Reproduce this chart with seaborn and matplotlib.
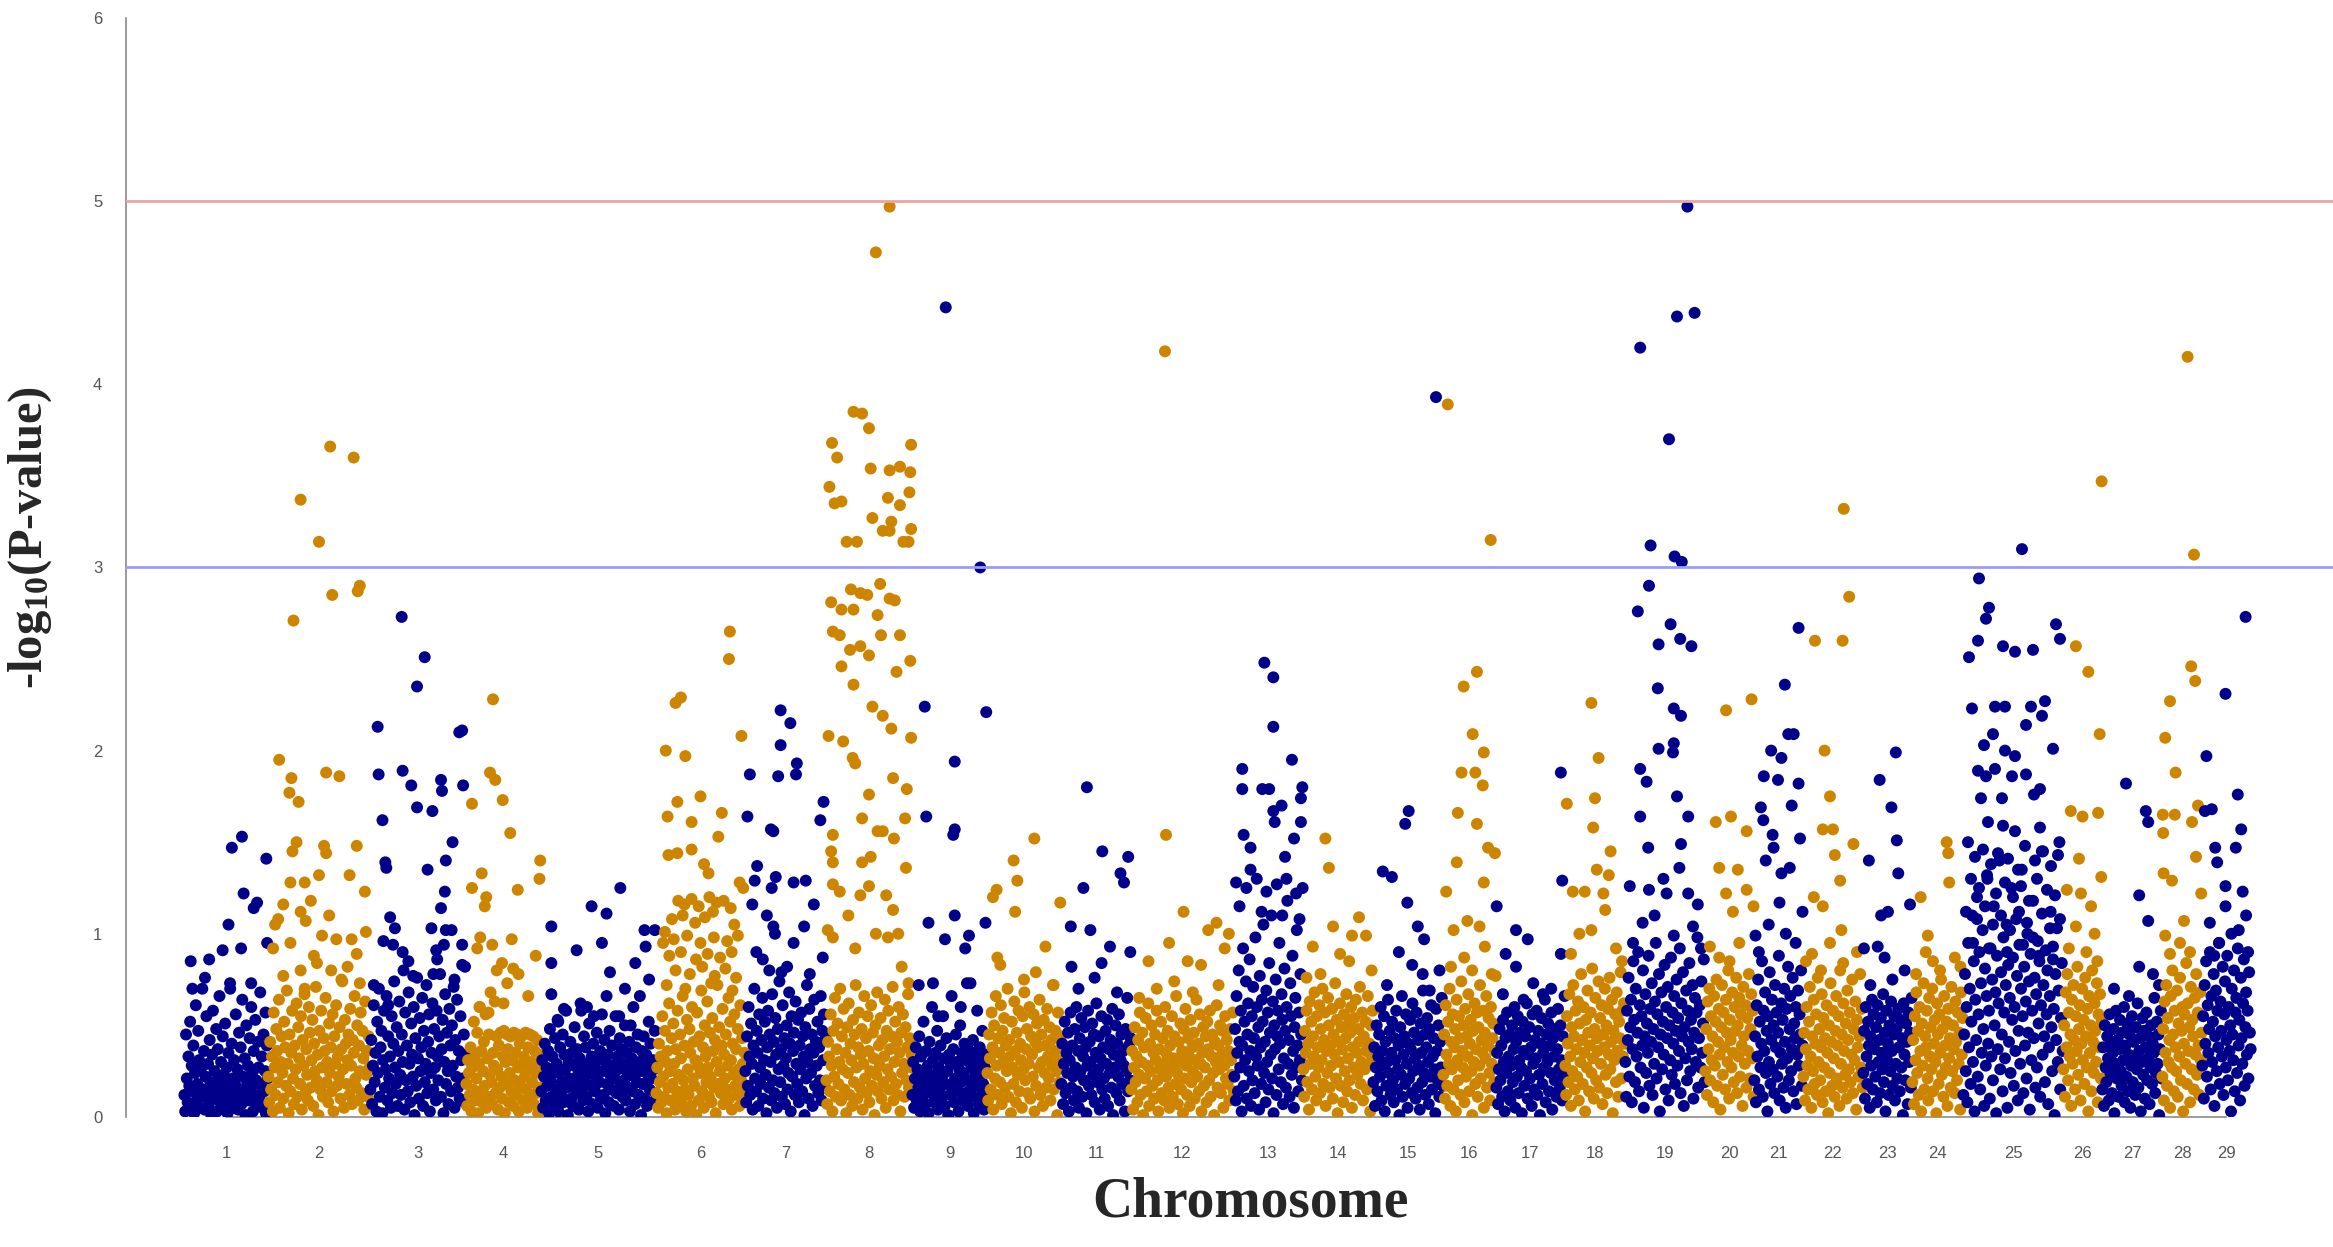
#!/usr/bin/env python3

import numpy as np
import pandas as pd
import matplotlib
matplotlib.use("Agg")
import matplotlib.pyplot as plt
import seaborn as sns

# relative width of each chromosome on the x axis (SNP span)
chrom_widths = [84, 102, 96, 75, 115, 89, 81, 86, 75, 74, 70, 103, 69, 70, 70,
                53, 69, 60, 80, 49, 49, 60, 49, 51, 100, 39, 60, 40, 49]

# bulk of the SNPs, -log10(p) in hundredths, in order along each chromosome
band_vals = [
    "12 3 45 21 8 33 17 52 6 28 14 39 2 24 61 9 18 47 31 5 26 11 70 15 36 4 22 55 13 29 7 42 19 1 34 58 10 25 16 48 3 37 20 66 8 30 12 44 23 6 51 17 27 2 35 14 73 9 40 21 5 31 18 56 11 26 4 46 15 38 7 64 22 13 32 1 50 19 28 9 43 16 60 24 3 36 12 53 20 7 41 27 10 68 17 33 5 45 14 25 2 39 21",
    "22 8 41 15 33 3 57 27 12 48 36 19 64 5 30 44 24 10 52 38 17 69 29 2 45 14 35 58 21 7 39 26 62 11 49 32 18 55 4 42 28 67 13 37 23 9 60 46 16 31 53 6 40 25 71 20 34 1 47 15 58 27 11 43 36 65 19 30 8 51 24 38 14 56 3 44 29 61 17 33 22 49 10 37 74 26 5 53 40 18 31 45 12 59 28 7 42 35 66 21 16 50 9 39 25 57 13 47 32 4 63 23 36 11 44 27",
    "15 42 7 28 61 19 35 3 52 24 70 11 38 47 2 31 58 16 26 66 9 44 21 33 5 55 13 40 74 27 18 49 6 36 63 23 12 45 30 80 4 57 20 39 14 68 29 8 51 34 22 60 1 43 17 76 32 10 54 25 38 65 6 47 19 29 72 13 41 56 3 24 35 62 15 48 27 9 58 33 20 44 78 11 37 53 2 30 67 18 46 25 7 59 39 14 50 28 71 5 42 22 64 16 36 10 55 31 83 21 45 8 34",
    "18 6 31 24 12 38 3 27 15 52 9 34 21 46 2 29 60 14 36 8 25 41 17 56 5 32 11 45 23 68 19 7 35 28 63 13 44 26 4 39 16 46 22 10 33 47 2 30 18 45 37 8 24 44 14 31 6 46 20 35 12 45 27 3 40 17 44 29 9 33 22 46 15 5 38 26 45 11 30 19 44 7 36 24 13 42 2 28 16 34",
    "14 31 5 22 40 9 27 17 36 2 48 20 11 33 25 7 43 15 29 53 3 24 38 12 19 45 8 34 26 58 16 1 30 21 41 10 35 6 28 49 18 13 37 23 4 32 62 15 26 9 44 20 38 11 29 3 51 24 17 33 7 40 27 14 22 46 5 31 19 36 10 56 25 12 42 2 30 18 34 8 47 23 15 39 28 6 21 55 13 33 26 4 43 17 37 11 29 20 50 9 35 24 16 41 3 27 32 14 60 22 7 38 19 45 12 30 25 1 36 18 44 10 28 34 6 23 52 15 40 21 8 31 26 47 13",
    "13 27 5 40 19 33 8 55 22 11 47 30 2 36 16 62 25 9 43 18 51 29 4 37 14 58 23 10 45 32 7 66 20 39 15 3 53 26 12 48 35 6 60 21 41 17 31 1 57 28 9 44 24 69 14 38 5 50 33 19 63 27 11 46 22 8 54 36 16 42 2 30 72 18 49 25 13 39 59 7 34 21 45 15 28 65 10 52 31 4 40 23 56 17 37 12 48 26 6 61 20 43 29 14 35",
    "25 8 44 17 60 33 12 51 29 4 39 70 21 14 47 35 6 56 27 18 42 65 10 31 52 23 2 38 58 16 45 30 9 67 20 41 13 54 34 5 48 26 74 19 37 11 61 28 43 7 32 50 15 24 68 40 3 55 22 36 46 12 63 29 18 53 8 39 26 57 14 44 33 1 49 21 72 30 10 59 37 24 45 6 35 64 17 41 28 52 13 38 20 66 9 47 31 56 16 43",
    "20 7 41 33 14 56 28 3 47 22 65 11 37 51 18 30 70 9 44 26 59 15 35 2 49 24 62 12 40 31 6 53 19 45 72 27 10 38 57 16 34 48 4 29 66 21 43 13 55 36 8 25 61 17 46 32 1 50 23 68 14 39 28 54 10 42 19 33 64 5 47 26 58 15 37 22 44 71 9 30 52 18 41 12 60 35 3 46 24 56 29 11 49 20 38 67 16 43 27 34",
    "12 30 5 21 38 9 26 16 44 3 33 19 11 52 24 7 36 15 28 2 41 20 13 60 31 8 23 35 17 47 4 27 14 39 10 22 55 32 6 18 43 25 1 34 12 29 66 16 37 8 21 45 30 14 3 26 50 19 35 9 24 40 13 31 73 6 20 36 15 28 11 42 2 25 33 17 58 22 7 38 29 12 47 18 4 27 34 10",
    "24 9 45 32 15 57 38 4 50 21 66 28 12 43 35 19 61 7 47 30 54 16 39 25 70 11 42 33 2 52 27 18 63 36 8 46 23 58 14 40 31 5 55 26 68 20 37 48 13 29 60 10 44 34 22 56 3 41 17 51 38 27 64 12 45 30 6 53 24 39 16 59 33 21 49 9 42 28 72 15 36 47 25 1 57 31 19 44",
    "18 40 7 29 52 13 35 24 46 3 31 57 16 39 22 9 48 27 60 14 36 5 43 25 54 11 33 20 49 38 2 28 58 17 41 30 12 51 23 45 8 35 62 19 26 44 4 32 55 15 38 21 10 47 29 53 6 37 24 42 16 59 1 34 27 50 13 40 22 56 9 31 45 18 36 28 3 48 25 65 14 39 20 43",
    "15 36 4 27 49 19 33 8 42 23 57 12 30 46 1 38 21 54 14 28 62 6 40 25 50 17 35 10 45 31 58 20 3 37 26 52 13 43 29 9 60 22 34 47 16 5 39 27 55 11 32 44 18 66 24 7 41 30 51 15 36 2 48 21 59 28 12 43 33 6 53 19 38 25 46 10 31 64 22 40 14 56 29 3 35 49 17 27 44 8 52 37 20 58 11 33 45 24 1 41 30 61 16 39 26 50 13 34 47 5 28 55 21 42 18 36 9 48 31 23 57 14",
    "22 48 9 66 35 14 80 41 27 58 3 39 92 17 52 31 74 10 45 62 25 86 36 6 55 20 71 43 13 98 33 60 28 49 4 77 38 18 64 52 105 24 41 8 69 30 57 15 84 46 34 110 21 63 2 50 37 75 12 44 58 26 95 40 19 67 53 7 32 81 47 16 60 118 29 42 11 73 55 23 88 36 5 49 65 27 102 39 14 57 31 78 45 20 125",
    "26 11 47 35 58 19 40 4 63 29 52 15 44 33 68 22 9 55 38 27 61 13 48 31 70 18 42 57 6 36 24 65 50 16 39 28 59 10 45 34 73 21 53 2 41 30 62 17 49 37 8 56 25 43 67 14 32 51 20 46 60 5 38 27 54 12 64 35 23 48 41 71 18 30 57 9 44 26 52 36 15 66 28 40 3 50 33 58",
    "19 38 6 27 50 14 33 45 22 60 9 36 28 55 3 41 17 30 64 24 47 12 35 52 20 8 43 31 58 15 26 39 1 49 23 66 11 34 44 18 56 29 5 40 21 53 37 13 62 25 46 32 10 57 16 42 28 4 51 35 19 69 24 45 12 38 54 30 7 48 22 61 15 33 43 26 2 59 36 20 50 11 41 27 65 17",
    "23 45 10 61 34 17 52 29 70 6 41 26 56 15 38 48 3 64 31 20 55 43 12 74 36 27 50 8 59 22 44 33 67 14 40 53 25 1 47 30 62 18 37 57 11 49 28 72 21 42 35 58 5 46 32 66 16 39 54 24 9 60 29 43 51 19 36 77",
    "16 35 7 26 48 20 39 11 53 30 3 43 24 57 14 33 45 9 28 50 19 37 60 5 41 22 55 13 31 46 27 2 52 36 17 44 25 62 10 34 49 21 38 6 56 29 15 42 32 58 12 47 23 1 40 54 18 35 27 64 8 45 30 51 14 39 24 57 4 43 33 20 48 11 37 59 26 16 50 31 9 44 22 66",
    "28 12 55 40 19 67 33 6 49 25 72 44 15 58 37 22 63 9 51 30 78 42 18 60 35 3 53 27 69 46 14 39 57 24 81 32 10 48 65 20 43 36 74 16 54 29 61 7 45 38 70 23 50 13 59 34 76 26 41 64 2 47 31 56 19 68 36 11 52 43 79 21 58 33 62 40",
    "30 11 58 42 76 22 49 64 8 37 85 53 19 70 33 46 90 14 61 27 55 39 80 5 44 67 24 51 35 88 17 59 41 73 12 48 29 63 95 21 56 38 78 3 45 68 26 52 34 83 15 60 43 71 9 50 31 87 23 57 40 66 18 47 75 28 54 36 92 13 62 44 79 6 49 32 69 20 58 41 84 25 53 37 72 10 46 65 30 57 98 16 43 61 27 74 35 51 86 19",
    "25 48 12 63 37 70 20 55 31 44 8 66 28 52 75 17 41 59 34 4 49 72 23 57 38 15 64 46 30 80 10 53 42 27 68 35 19 60 47 76 13 50 33 65 22 56 39 6 71 44 29 61 16 54 36 78 21 48 67 32 58 11",
    "20 44 8 61 33 75 15 52 27 40 85 11 58 36 68 24 47 3 55 30 79 18 42 64 26 50 13 72 38 57 22 46 88 9 35 62 29 53 16 70 41 5 59 32 82 20 48 66 25 37 76 14 51 43 60 7 34 69 28 56 45 80 17 39",
    "22 46 9 37 60 28 15 52 71 33 5 44 25 64 18 40 56 12 76 30 48 20 38 67 8 54 27 43 14 61 35 2 50 24 73 41 17 58 32 11 47 66 21 39 55 6 80 29 45 16 62 36 23 51 10 69 42 26 57 19 34 75 13 48 31 63 4 53 38 22 44 78 27 59 16",
    "24 47 10 60 33 18 52 39 5 44 28 64 15 56 37 22 49 8 61 30 42 13 54 35 26 67 19 46 3 58 31 40 12 50 25 63 36 17 45 55 9 29 48 21 59 38 14 53 27 43 1 62 34 20 51 41 7 57 30 46 16 65",
    "19 42 7 55 31 68 24 47 12 60 36 3 51 28 73 15 44 38 58 21 9 65 33 49 26 70 14 40 53 30 2 62 45 18 56 35 75 23 48 11 66 39 27 52 6 59 32 43 16 71 25 50 37 13 63 41 20 57 29 46 4 68 34 54",
    "12 45 78 25 60 8 95 38 70 18 52 110 30 85 3 64 42 120 22 56 90 15 73 35 102 48 6 81 28 66 130 40 58 10 92 33 75 20 115 50 68 2 88 37 62 140 26 79 45 14 98 57 32 72 105 5 83 41 65 24 125 53 87 17 60 36 108 77 9 47 94 29 70 135 55 13 82 39 63 21 100 46 74 4 89 31 58 118 43 76 16 67 27 96 51 85 11 61 145 34 72 44 19 91 56 80 7 38 66 112 49 25 86 59 1 78 42 103 30 69 150 15 54 84 36",
    "26 50 11 68 38 78 20 57 33 45 6 64 29 72 42 15 55 36 82 23 48 61 9 40 70 31 53 18 76 44 27 59 3 66 35 50 14 80 41 24 62 47 30 73 8 56 38 67 21 52",
    "15 38 6 50 27 19 44 32 9 56 24 40 13 35 48 2 29 58 21 42 11 37 53 25 17 46 31 60 8 39 22 51 14 34 45 5 28 55 19 41 33 12 49 26 62 16 36 43 3 30 54 23 47 10 38 57 20 32 44 7 27 50 18 40 35 65 13 24 52 29 45 1 37 58 21",
    "22 48 9 63 35 72 17 54 30 42 5 66 27 80 45 14 58 38 25 69 11 51 33 76 20 47 60 3 40 56 29 84 18 62 36 49 8 71 26 53 44 15 65 34 78 23 57 39 12 68 31 46",
    "28 55 10 72 40 85 22 61 35 48 90 15 66 30 52 78 6 44 69 25 58 38 95 18 63 47 33 82 12 56 74 27 42 88 20 60 36 50 3 70 45 31 80 14 57 65 24 92 39 53 9 76 43 29 62 86 17 49 68 34 58 21 79 46 37",
]

# stand-out SNPs as "position along chromosome (%):-log10(p)"
peak_points = [
    "8:0.85 30:0.86 46:0.91 53:1.05 57:1.47 69:1.53 71:1.22 83:1.14 87:1.17 68:0.92 98:1.41 99:0.95 10:0.70 25:0.76 55:0.70 80:0.73 97:0.57",
    "11:1.95 23:1.85 21:1.77 30:1.72 28:1.50 24:1.45 55:1.48 57:1.44 87:1.48 57:1.88 70:1.86 50:1.32 80:1.32 95:1.23 22:1.28 36:1.28 15:1.16 32:1.12 42:1.18 10:1.08 7:1.05 37:1.07 22:0.95 53:0.99 67:0.97 82:0.97 96:1.01 87:0.89 15:0.77 32:0.80 48:0.84 62:0.80 78:0.82 36:0.70 90:0.73 61:3.66 84:3.60 32:3.37 50:3.14 90:2.90 88:2.87 63:2.85 25:2.71 45:0.88 72:0.75 5:0.92 60:1.10",
    "33:2.73 57:2.51 49:2.35 8:2.13 9:1.87 34:1.89 43:1.81 49:1.69 65:1.67 74:1.84 75:1.78 96:2.11 93:2.10 97:1.81 13:1.62 86:1.50 16:1.39 17:1.36 60:1.35 79:1.40 78:1.23 74:1.14 21:1.09 26:1.03 64:1.03 79:1.02 85:1.02 14:0.96 24:0.94 34:0.90 69:0.91 77:0.94 96:0.94 40:0.85 70:0.86 99:0.82 4:0.72 45:0.77 66:0.78 19:0.61 88:0.75",
    "36:2.28 32:1.88 39:1.84 49:1.73 8:1.71 59:1.55 99:1.40 98:1.30 21:1.33 69:1.24 8:1.25 27:1.20 25:1.15 19:0.98 61:0.97 15:0.92 35:0.94 93:0.88 48:0.84 63:0.81 70:0.78 41:0.80 55:0.73 83:0.66 18:0.60 30:0.57 50:0.62",
    "69:1.25 44:1.15 57:1.11 9:1.04 90:1.02 31:0.91 53:0.95 91:0.93 9:0.84 60:0.79 82:0.84 94:0.75 9:0.67 20:0.59 35:0.58 46:0.55 57:0.66 68:0.55 73:0.70 86:0.66 78:0.50 99:1.02 40:0.60 15:0.52",
    "83:2.65 82:2.50 22:2.26 28:2.29 96:2.08 11:2.00 33:1.97 50:1.75 24:1.72 13:1.64 40:1.61 74:1.66 70:1.53 40:1.46 14:1.43 24:1.44 54:1.38 59:1.33 94:1.28 25:1.18 32:1.16 40:1.19 48:1.15 60:1.20 68:1.17 76:1.18 84:1.14 18:1.08 30:1.10 44:1.06 55:1.09 64:1.12 88:1.05 10:1.01 20:0.97 35:0.99 50:0.95 65:0.98 80:0.96 92:0.99 15:0.88 28:0.90 45:0.86 58:0.89 72:0.87 85:0.90 22:0.80 38:0.78 52:0.82 66:0.77 78:0.81 90:0.76 12:0.72 33:0.70 62:0.73 86:0.69 8:0.95 98:1.25",
    "44:2.22 56:2.15 44:2.03 64:1.93 63:1.87 41:1.86 6:1.87 97:1.72 93:1.62 3:1.64 35:1.56 32:1.57 15:1.37 12:1.29 38:1.31 60:1.28 75:1.29 33:1.25 85:1.16 9:1.16 27:1.10 35:1.04 37:1.00 73:1.04 14:0.90 22:0.86 30:0.80 45:0.79 96:0.87 60:0.95 52:0.82 80:0.78",
    "74:4.97 58:4.72 32:3.85 42:3.84 50:3.76 7:3.68 13:3.60 99:3.67 52:3.54 74:3.53 86:3.55 98:3.52 4:3.44 10:3.35 18:3.36 72:3.38 97:3.41 86:3.34 54:3.27 66:3.20 76:3.25 74:3.20 99:3.21 24:3.14 36:3.14 90:3.14 96:3.14 "
    "29:2.88 40:2.86 48:2.85 63:2.91 6:2.81 18:2.77 32:2.77 60:2.74 74:2.83 80:2.82 8:2.65 16:2.63 28:2.55 40:2.57 50:2.52 64:2.63 86:2.63 18:2.46 32:2.36 82:2.43 98:2.49 54:2.24 66:2.19 76:2.12 99:2.07 3:2.08 20:2.05 31:1.96 34:1.93 78:1.85 94:1.79 50:1.76 42:1.63 60:1.56 66:1.56 8:1.54 79:1.52 92:1.63 6:1.45 8:1.39 42:1.39 52:1.42 93:1.36 8:1.27 16:1.23 40:1.21 50:1.26 70:1.21 78:1.13 26:1.10 2:1.02 8:0.98 58:1.00 72:0.98 84:1.00 34:0.92 88:0.82 96:0.73",
    "45:4.42 91:3.00 17:2.24 99:2.21 57:1.94 19:1.64 55:1.54 57:1.57 22:1.06 57:1.10 76:0.99 71:0.92 98:1.06 44:0.97 78:0.73 9:0.72 28:0.73 65:0.60 35:0.55",
    "64:1.52 36:1.40 41:1.29 8:1.20 13:1.24 38:1.12 99:1.17 79:0.93 14:0.87 18:0.83 66:0.79 50:0.75 90:0.72",
    "37:1.80 59:1.45 96:1.42 85:1.33 90:1.28 32:1.25 14:1.04 42:1.02 70:0.93 99:0.90 15:0.82 58:0.84 48:0.76 25:0.70 80:0.68",
    "33:4.18 34:1.54 51:1.12 83:1.06 75:1.02 95:1.00 91:0.92 37:0.95 17:0.85 55:0.85 68:0.83 42:0.74 25:0.70 85:0.72 60:0.68 8:0.65",
    "44:2.48 57:2.40 57:2.13 84:1.95 12:1.90 12:1.79 41:1.79 51:1.79 99:1.80 97:1.74 69:1.70 57:1.67 59:1.61 97:1.61 14:1.54 24:1.47 87:1.52 74:1.42 24:1.35 3:1.28 18:1.25 33:1.30 47:1.23 62:1.27 76:1.30 90:1.22 8:1.15 40:1.12 70:1.10 95:1.08",
    "32:1.52 37:1.36 80:1.09 70:0.99 90:0.99 43:1.04 14:0.93 53:0.89 66:0.85 25:0.78 98:0.80 5:0.76",
    "51:1.67 46:1.60 14:1.34 27:1.31 49:1.17 64:1.04 73:0.97 37:0.90 56:0.83 71:0.78 81:0.69 90:3.93 20:0.72 95:0.80",
    "9:3.89 90:3.15 64:2.43 39:2.35 56:2.09 77:1.99 35:1.88 61:1.88 75:1.81 28:1.66 64:1.60 85:1.47 98:1.44 26:1.39 6:1.23 77:1.28 46:1.07 69:1.04 20:1.02 79:0.93 40:0.87 15:0.82 55:0.80 92:0.78",
    "29:1.02 46:0.97 14:0.89 29:0.82 94:1.88 96:1.29 94:0.89 10:0.67 54:0.73 68:0.67 1:1.15 80:0.70 40:0.64",
    "44:2.26 56:1.96 3:1.71 50:1.74 47:1.58 76:1.45 53:1.35 73:1.32 64:1.22 13:1.23 33:1.23 24:1.00 44:1.02 67:1.13 10:0.89 85:0.92 95:0.85",
    "78:4.97 65:4.37 87:4.39 19:4.20 55:3.70 32:3.12 62:3.06 71:3.03 30:2.90 16:2.76 57:2.69 69:2.61 83:2.57 42:2.58 41:2.34 61:2.23 70:2.19 61:2.04 60:1.99 42:2.01 19:1.90 27:1.83 65:1.75 19:1.64 79:1.64 29:1.47 70:1.49 68:1.36 6:1.26 30:1.24 52:1.22 79:1.22 91:1.16 22:1.06 61:0.99 85:1.04 10:0.95 37:1.10 48:1.30 95:0.92",
    "43:2.22 95:2.28 22:1.61 53:1.64 85:1.56 29:1.36 67:1.35 43:1.22 85:1.24 57:1.12 99:1.15 10:0.93 29:0.87 70:0.95 50:0.85",
    "91:2.67 63:2.36 81:2.09 70:2.09 35:2.00 56:1.96 20:1.86 49:1.84 91:1.82 14:1.69 77:1.70 19:1.62 38:1.54 94:1.52 40:1.47 24:1.40 73:1.36 56:1.33 52:1.17 99:1.12 3:0.99 30:1.05 65:1.00 85:0.95 10:0.90",
    "68:3.32 77:2.84 20:2.60 66:2.60 36:2.00 45:1.75 33:1.57 50:1.57 53:1.43 62:1.29 18:1.20 33:1.15 84:1.49 64:1.02 15:0.89 30:0.80 67:0.84 90:0.90 5:0.85 45:0.95",
    "67:1.99 34:1.84 58:1.69 69:1.51 12:1.40 72:1.33 51:1.12 37:1.10 96:1.16 2:0.92 30:0.93 44:0.87 85:0.80 60:0.75 15:0.72",
    "68:1.50 71:1.44 73:1.28 17:1.20 31:0.99 27:0.90 84:0.87 41:0.85 55:0.80 95:0.82 8:0.78",
    "16:2.94 26:2.78 23:2.72 15:2.60 6:2.51 40:2.57 52:2.54 70:2.55 93:2.69 97:2.61 59:3.10 9:2.23 32:2.24 42:2.24 68:2.24 82:2.27 30:2.09 63:2.14 79:2.19 21:2.03 42:2.00 52:1.97 90:2.01 15:1.89 23:1.86 32:1.90 49:1.86 63:1.87 77:1.79 18:1.74 39:1.74 71:1.76 25:1.61 40:1.59 52:1.56 77:1.58 "
    "5:1.50 12:1.42 20:1.46 28:1.38 35:1.44 45:1.41 55:1.35 62:1.48 72:1.40 80:1.45 88:1.37 95:1.43 8:1.30 16:1.25 24:1.32 33:1.22 42:1.28 50:1.20 58:1.26 66:1.18 74:1.30 84:1.24 92:1.21 3:1.12 14:1.08 22:1.15 30:1.05 38:1.10 47:1.02 56:1.12 64:1.06 70:0.98 79:1.11 87:1.03 97:1.08 10:0.95 26:0.92 44:0.90 60:0.94 76:0.88 90:0.93",
    "99:3.47 33:2.57 65:2.43 94:2.09 20:1.67 50:1.64 90:1.66 41:1.41 98:1.31 10:1.24 46:1.22 72:1.15 33:1.04 81:1.00 15:0.92 60:0.90 88:0.85",
    "40:1.82 73:1.67 77:1.61 62:1.21 77:1.07 62:0.82 85:0.78 20:0.70 45:0.66 95:0.72",
    "64:4.15 80:3.07 73:2.46 83:2.38 20:2.27 8:2.07 34:1.88 2:1.65 32:1.65 75:1.61 90:1.70 3:1.55 85:1.42 4:1.33 25:1.29 98:1.22 55:1.07 8:0.99 20:0.89 45:0.95 70:0.90",
    "89:2.73 48:2.31 9:1.97 73:1.76 6:1.67 20:1.68 80:1.57 27:1.47 69:1.47 31:1.39 48:1.26 83:1.23 48:1.15 16:1.06 94:0.90 60:1.00 35:0.95 75:1.02 25:0.88 90:1.10",
]

suggestive = 3
significant = 5

# build the table, one row per SNP
rows = []
offset = 0
for i, w in enumerate(chrom_widths):
    chrom = i + 1
    band = [int(v) / 100 for v in band_vals[i].split()]
    n = len(band)
    for j, v in enumerate(band):
        rows.append((chrom, offset + (j + 0.5) / n * w, v))
    for p in peak_points[i].split():
        pos, v = p.split(":")
        rows.append((chrom, offset + float(pos) / 100 * w, float(v)))
    offset += w
df = pd.DataFrame(rows, columns=["chrom", "pos", "logp"])
df["parity"] = np.where(df["chrom"] % 2 == 1, "odd", "even")

starts = np.cumsum([0] + chrom_widths[:-1])
centers = starts + np.array(chrom_widths) / 2

sns.set_style("white")
plt.rcParams["font.family"] = ["Liberation Sans", "DejaVu Sans"]
plt.rcParams["mathtext.fontset"] = "custom"
plt.rcParams["mathtext.rm"] = "Liberation Serif:bold"
plt.rcParams["mathtext.bf"] = "Liberation Serif:bold"
plt.rcParams["mathtext.it"] = "Liberation Serif:bold:italic"

fig = plt.figure(figsize=(23.33, 12.47), dpi=100)
ax = fig.add_axes([0.054, 0.1043, 0.946, 0.8813])

sns.scatterplot(data=df, x="pos", y="logp", hue="parity",
                palette={"odd": "#00008B", "even": "#CD8500"},
                s=74, linewidth=0, alpha=1, legend=False, ax=ax)

ax.axhline(significant, color="#EDA3A3", lw=2, zorder=3)
ax.axhline(suggestive, color="#9C9CF7", lw=2, zorder=3)

ax.set_xlim(-58, 2149)
ax.set_ylim(0, 6)
ax.set_xticks(centers)
ax.set_xticklabels([str(c) for c in range(1, 30)])
ax.set_yticks(range(0, 7))
ax.set_xlabel("")
ax.set_ylabel("")

for side in ["top", "right"]:
    ax.spines[side].set_visible(False)
ax.spines["left"].set_bounds(0, 6)
ax.spines["left"].set_color("#8a8a8a")
ax.spines["left"].set_linewidth(1.2)
ax.spines["bottom"].set_bounds(centers[0], centers[-1])
ax.spines["bottom"].set_color("#8a8a8a")
ax.spines["bottom"].set_linewidth(1.2)
ax.spines["bottom"].set_zorder(0.5)

ax.tick_params(axis="x", colors="#808080", labelcolor="#555555",
               labelsize=12, length=8, width=1, pad=13)
ax.tick_params(axis="y", colors="#808080", labelcolor="#555555",
               labelsize=12, length=7, width=1, pad=10)

fig.text(0.536, 0.0353, "Chromosome", ha="center", va="center",
         fontsize=40, fontweight="bold", family="Liberation Serif")
fig.text(0.0129, 0.569, r"-log$_{\mathrm{10}}$(P-value)", ha="center", va="center",
         rotation=90, fontsize=35, fontweight="bold", family="Liberation Serif")

fig.savefig("out.png", dpi=100, facecolor="white")
